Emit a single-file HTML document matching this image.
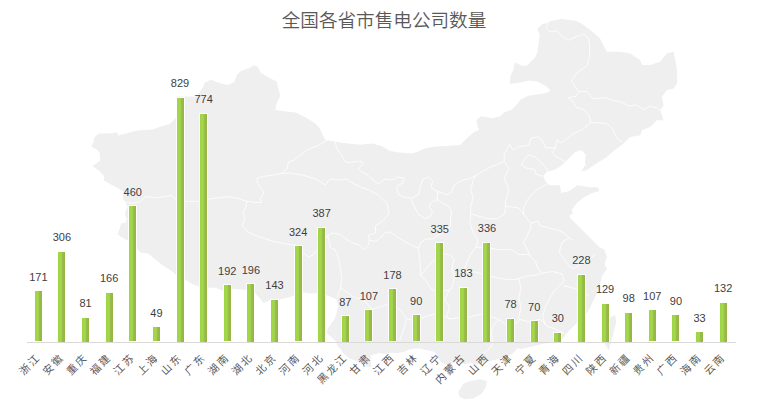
<!DOCTYPE html>
<html><head><meta charset="utf-8"><title>全国各省市售电公司数量</title>
<style>
html,body{margin:0;padding:0;background:#fff;}
body{width:768px;height:419px;overflow:hidden;position:relative;}
svg{position:absolute;left:0;top:0;display:block;}
.t{font-family:"Liberation Sans","Noto Sans CJK SC",sans-serif;font-size:18.6px;font-weight:350;fill:#595959;}
.v text{font-family:"Liberation Sans","Noto Sans CJK SC",sans-serif;font-size:11px;fill:#404040;text-anchor:middle;}
.c text{font-family:"Liberation Sans","Noto Sans CJK SC",sans-serif;font-size:10.5px;letter-spacing:2.0px;fill:#595959;text-anchor:end;}
</style></head>
<body>
<svg width="768" height="419" viewBox="0 0 768 419">
<defs>
<linearGradient id="g" x1="0" y1="0" x2="1" y2="0">
<stop offset="0" stop-color="#9fd446"/>
<stop offset="0.45" stop-color="#a3d84c"/>
<stop offset="0.62" stop-color="#9bbd4c"/>
<stop offset="1" stop-color="#94b544"/>
</linearGradient>
</defs>
<g fill="#efefef" stroke="none">
<polygon points="92.4,166.0 100.0,161.1 100.0,153.5 97.2,149.7 91.5,146.8 93.4,142.0 94.3,137.3 99.1,133.4 108.7,133.4 117.3,132.5 118.2,135.4 125.9,133.4 137.3,130.6 152.6,129.6 160.3,126.8 169.8,123.9 175.5,118.2 177.5,115.0 177.5,96.5 196.0,96.5 199.5,92.5 203.0,87.5 204.4,83.0 210.8,79.7 219.4,83.0 228.0,85.1 234.4,81.9 236.6,75.4 240.9,71.1 249.5,67.9 253.8,65.3 258.1,66.9 260.2,72.2 267.2,76.7 276.7,81.5 279.1,91.0 280.3,95.8 276.7,102.9 275.5,110.1 283.8,111.3 295.8,112.5 305.3,117.2 314.9,123.2 319.6,128.0 323.2,136.3 325.6,139.9 331.5,141.1 338.7,142.3 348.2,143.5 360.2,144.7 372.1,143.5 381.6,145.9 389.5,150.7 399.1,152.6 412.5,153.5 418.2,151.6 423.9,148.8 433.5,146.8 446.8,145.9 460.2,144.9 464.0,141.1 467.9,137.3 473.6,132.5 479.3,129.7 477.4,125.8 476.4,120.1 481.2,116.3 492.7,118.2 500.3,116.3 504.1,112.5 511.8,109.6 517.0,104.3 520.6,99.5 527.7,95.9 534.9,94.7 544.4,93.5 550.4,91.1 546.8,86.4 537.3,81.6 530.1,80.4 518.2,82.8 509.8,84.0 509.8,81.6 511.0,74.4 513.4,69.7 514.6,62.5 523.0,66.1 527.7,64.9 534.9,57.7 537.3,53.0 538.5,43.4 539.7,33.9 537.3,29.1 542.0,24.3 546.8,23.1 551.6,20.7 561.1,19.1 575.5,20.7 582.6,24.3 592.2,31.5 600.0,38.6 606.8,51.7 620.1,51.7 630.2,53.4 640.2,60.1 641.9,65.1 650.2,65.1 660.2,61.8 666.9,53.4 673.6,51.7 675.3,60.1 677.0,70.1 677.0,83.5 673.6,88.5 666.9,90.2 661.9,96.8 663.6,105.2 660.2,110.2 663.6,120.2 656.9,120.2 650.2,126.9 641.9,130.3 640.2,135.3 630.2,137.0 623.5,143.6 620.0,146.2 613.5,151.0 605.9,157.7 596.3,163.4 586.8,170.0 583.0,171.0 581.0,172.0 584.9,165.3 586.8,167.2 584.9,162.4 585.8,154.8 581.0,150.0 575.3,152.0 569.6,157.7 565.8,161.5 562.0,165.3 554.4,170.0 546.7,172.0 543.9,175.8 544.8,180.6 548.6,184.4 550.5,185.3 560.0,185.3 561.0,193.0 569.6,191.0 577.3,185.3 588.7,187.3 598.2,187.3 599.2,191.0 592.5,193.0 584.9,196.8 577.3,202.5 571.5,210.0 573.1,213.0 569.2,215.7 570.5,218.3 578.4,226.2 586.3,234.0 594.1,242.0 599.4,247.2 604.6,249.8 606.9,257.2 604.5,264.3 606.9,269.1 602.0,276.2 599.7,285.8 596.1,295.3 592.6,302.5 587.8,312.0 580.6,319.2 573.5,326.3 566.3,333.5 561.5,340.6 551.6,342.8 543.8,343.6 534.4,345.9 528.1,347.5 521.9,349.1 517.2,348.3 515.6,350.6 512.5,353.8 506.3,356.9 500.0,358.4 493.8,360.0 487.5,361.6 481.3,363.1 475.0,364.7 470.3,363.1 465.6,364.2 460.9,362.9 456.7,361.7 452.5,362.9 448.4,363.8 445.9,364.2 443.4,363.4 440.0,360.9 437.5,357.5 435.9,353.3 434.2,351.7 429.2,350.8 425.0,350.0 419.8,348.4 415.0,348.5 409.2,349.7 405.0,351.6 401.6,352.3 398.0,353.0 390.8,353.0 387.2,353.4 383.7,353.7 379.4,353.0 376.5,353.7 373.6,354.5 370.8,355.2 370.5,360.0 371.5,366.6 369.7,367.5 365.9,365.6 362.0,363.7 358.2,361.8 354.4,359.9 350.6,358.9 347.7,357.0 344.8,355.1 342.9,352.7 341.0,349.4 337.2,345.6 336.2,342.0 334.0,339.5 330.0,336.0 326.5,333.0 327.6,329.1 331.2,323.7 334.8,318.4 336.6,313.0 338.4,305.8 336.6,299.6 331.2,296.9 325.8,295.1 316.9,293.3 310.8,293.4 303.2,292.5 295.5,294.4 289.8,297.3 284.1,298.2 278.3,300.1 270.7,300.1 263.1,303.0 261.2,300.1 257.3,295.4 253.5,291.5 242.0,289.6 230.6,288.7 222.9,290.6 215.3,287.7 207.6,287.7 199.8,286.9 192.2,284.0 186.4,280.2 176.9,275.4 171.2,270.6 163.5,265.9 155.9,260.1 148.2,253.4 140.6,252.5 136.8,248.7 129.1,241.0 121.5,237.2 117.6,234.3 120.1,227.3 121.1,223.5 125.9,222.5 126.8,218.7 124.9,214.9 125.9,210.1 127.8,207.3 125.9,203.4 123.0,198.7 124.0,192.0 118.2,188.2 110.6,184.3 103.9,180.5 103.9,175.7 99.1,170.7"/>
<polygon points="458.4,391.8 463.4,383.4 470.0,380.9 480.0,379.2 486.8,380.9 486.0,386.7 481.8,393.4 473.4,398.4 465.0,399.3 459.2,396.8"/>
<polygon points="615.3,315.3 616.3,322.0 613.4,333.5 608.6,350.6 601.0,337.3 604.8,325.8 610.5,317.2"/>
</g>
<g fill="none" stroke="#fff" stroke-width="0.8" stroke-linejoin="round" stroke-linecap="round">
<polyline points="122.5,199.5 125.0,202.0 131.0,203.0 138.0,202.8 141.0,200.5 145.0,197.0 150.0,196.6 153.9,197.8 165.8,196.6 171.8,195.4 176.6,200.1 184.9,201.3 199.3,201.3 208.8,199.0 218.4,197.8 227.9,196.6 235.1,197.8 247.0,201.3 254.2,202.5 261.3,202.5"/>
<polyline points="326.6,140.7 318.2,145.5 308.7,149.1 301.5,153.9 294.3,159.9 288.4,162.2 287.2,168.2 282.8,172.7 273.3,175.1 263.7,176.3 256.6,178.7 257.8,183.4 261.3,188.2 263.7,193.0 260.1,199.0 261.3,202.5"/>
<polyline points="247.0,201.3 245.8,207.3 243.4,212.1 244.6,219.3 242.2,225.2 247.0,231.2 254.2,234.8 263.7,238.4 275.7,241.9 287.6,244.3 294.3,244.9 303.9,253.3 308.7,256.9 313.4,254.5 320.6,244.9 327.8,235.4"/>
<polyline points="282.0,173.5 289.6,173.0 303.9,175.4 315.8,179.0 325.4,184.9 330.1,179.0 339.7,180.1 346.9,179.0 354.0,183.7 361.2,187.3 370.7,190.9 377.9,194.5 382.7,199.3 387.5,204.3 388.7,213.9 382.7,221.0 375.5,225.8 375.5,233.0 368.4,235.4 369.6,240.1"/>
<polyline points="327.8,235.4 332.5,233.0 339.7,234.2 344.5,237.8 351.6,242.5 358.8,244.9 363.6,249.7 368.4,244.9 369.6,240.1"/>
<polyline points="327.8,235.4 330.1,247.3 334.8,249.6 337.3,254.5 339.7,263.9 341.9,278.2 340.7,287.8 337.2,297.3"/>
<polyline points="340.7,287.8 353.9,297.3 363.4,299.7 371.8,309.3 380.1,306.9 387.3,304.5 396.9,306.9 401.6,311.6 406.4,318.8 404.0,328.4 400.0,340.0"/>
<polyline points="406.4,318.8 416.0,321.1 425.5,316.4 435.1,314.0 444.6,316.4 449.4,318.8 458.9,318.0 466.5,317.7 474.1,315.8 481.7,313.9 490.0,316.0 498.9,319.6 504.6,323.4 512.3,325.4 518.0,321.6 520.0,319.6"/>
<polyline points="498.9,319.6 493.2,325.4 491.3,333.0 493.2,340.6 491.3,346.4 489.0,349.0 484.0,353.0"/>
<polyline points="369.6,240.1 375.5,241.3 380.3,237.8 385.1,233.0 389.9,231.8 397.0,236.6 404.2,241.3 411.3,244.9 418.5,248.5 420.9,242.5 425.7,239.0 432.8,239.0 437.6,235.4"/>
<polyline points="420.7,275.8 425.5,280.6 430.3,287.8 435.1,291.3 442.2,291.3 449.4,290.1 444.6,299.7 449.4,306.9 447.0,316.4 449.4,318.8"/>
<polyline points="418.5,248.5 420.0,262.0 420.7,275.8 427.9,266.3 435.1,259.1 442.2,254.3 449.4,254.3 454.2,259.1 451.8,268.7 454.2,278.2 451.8,287.8 449.4,290.1"/>
<polyline points="334.9,141.9 337.3,149.1 342.1,156.3 345.7,162.2 351.6,162.2 361.2,161.0 362.4,164.6 358.8,168.2 361.2,171.8 368.4,175.4 373.1,180.1 377.9,183.7 381.5,181.3 385.1,179.0 392.2,180.1 397.9,177.0 403.9,178.2 402.7,183.0 396.7,186.6 397.9,193.7 403.9,197.3 408.7,197.3 411.0,199.7 414.6,206.9 418.2,214.0 425.4,218.8 430.1,216.4"/>
<polyline points="411.0,198.5 418.2,194.9 420.6,185.4 423.0,179.4 427.8,177.0 432.5,180.6 431.3,187.8 437.3,191.3 437.3,199.7 431.3,202.1 429.0,206.9 432.5,211.6 430.1,216.4"/>
<polyline points="437.3,191.3 446.9,194.9 451.6,192.5 454.0,185.4 461.2,180.6 470.7,178.2 475.5,175.8"/>
<polyline points="437.3,199.7 449.3,206.9 451.6,211.6 450.4,218.8 450.4,226.0 445.0,232.0 437.6,235.4"/>
<polyline points="475.5,175.8 473.1,180.6 470.7,190.1 473.1,197.3 470.7,206.9 470.7,216.4 469.9,223.4 473.4,233.0 478.2,240.1 475.8,247.3 470.0,255.0 463.7,271.0 475.0,272.0 490.1,276.3 502.1,278.7 511.6,279.9 518.8,278.7 526.0,276.3 535.5,275.1 545.1,272.7 552.2,271.5 561.8,273.9"/>
<polyline points="475.5,175.8 482.7,171.0 492.2,166.3 504.2,161.5 504.2,154.3 509.6,144.2 513.1,150.1 519.1,146.6 528.7,145.4 531.0,138.2 538.2,137.0 543.0,141.8 545.4,147.8 556.1,147.8"/>
<polyline points="504.2,161.5 509.0,168.7 504.2,178.2 509.0,190.1 505.4,202.1 505.7,206.7"/>
<polyline points="471.0,214.0 487.8,218.7 497.3,218.7 504.5,213.9 505.7,206.7 509.3,206.7 518.8,207.9 523.6,213.9"/>
<polyline points="547.8,183.6 535.8,190.7 528.7,197.9 523.3,208.1 523.6,213.9 530.7,223.4 537.9,221.0 540.3,225.8 549.9,228.2 559.4,230.6 564.2,233.0 569.0,237.8 572.0,240.0"/>
<polyline points="530.7,224.0 530.7,228.2 526.0,237.8 523.6,242.5 528.4,252.1 530.7,256.9 535.5,261.6 537.9,268.8 542.7,273.6"/>
<polyline points="569.0,237.8 561.8,242.5 559.4,252.1 564.2,259.3 569.0,266.4 573.7,268.8 585.0,262.0 595.0,255.0"/>
<polyline points="475.8,247.3 487.8,247.3 497.3,249.7 511.6,249.7 518.8,254.5 528.4,254.5"/>
<polyline points="518.8,278.7 521.2,288.2 518.8,297.8 521.2,307.3 518.8,316.9 518.8,319.3 528.4,321.6 540.3,319.3 547.5,326.4 554.6,328.8 564.2,333.6"/>
<polyline points="561.8,273.9 564.2,281.0 557.0,288.2 554.6,290.6 549.9,297.8 545.1,307.3 542.7,316.9 545.1,324.0 547.5,326.4"/>
<polyline points="564.2,285.8 573.7,288.2 580.9,290.6 588.1,295.4"/>
<polyline points="547.8,22.4 546.6,28.4 550.1,31.9 557.3,30.7 560.9,35.5 568.1,40.3 576.4,36.7 583.6,34.3 588.4,37.9 589.6,46.3 589.6,55.8 587.2,65.4 582.4,69.0 576.4,73.7 571.6,80.9 575.2,86.9 578.8,91.6 576.4,96.4 568.1,97.6 572.8,101.2 576.4,107.2 583.6,109.6 589.6,116.7 590.7,122.7"/>
<polyline points="578.8,91.6 587.2,91.6 593.1,98.8 605.1,97.6 612.2,100.0 621.8,102.4 629.0,106.0 636.1,104.8 643.3,109.6 650.4,106.0 657.6,108.4 663.0,112.0"/>
<polyline points="590.7,122.7 597.9,122.7 607.5,123.9 612.2,128.7 617.0,138.2 621.8,141.8"/>
<polyline points="590.7,122.7 583.6,128.7 574.0,133.4 564.5,140.6 559.7,143.0 557.3,139.4 556.1,145.4 552.5,152.5 554.9,156.1 562.1,159.7 565.0,162.0"/>
<polyline points="528.7,155.0 535.8,157.3 540.6,162.1 545.4,166.9 547.8,171.6 543.0,176.4 535.8,174.0 534.6,169.3 526.3,168.1 521.5,164.5 523.9,159.7 528.7,155.0"/>
</g>
<text class="t" x="384" y="27" text-anchor="middle">全国各省市售电公司数量</text>
<line x1="27" y1="342.5" x2="736" y2="342.5" stroke="#d9d9d9" stroke-width="1"/>
<g>
<rect x="34" y="290" width="9" height="51" fill="#fff" fill-opacity="0.85"/><rect x="35" y="291" width="7" height="50" fill="url(#g)"/>
<rect x="57" y="251" width="9" height="91" fill="#fff" fill-opacity="0.85"/><rect x="58" y="252" width="7" height="90" fill="url(#g)"/>
<rect x="81" y="317" width="9" height="25" fill="#fff" fill-opacity="0.85"/><rect x="82" y="318" width="7" height="24" fill="url(#g)"/>
<rect x="105" y="292" width="9" height="50" fill="#fff" fill-opacity="0.85"/><rect x="106" y="293" width="7" height="49" fill="url(#g)"/>
<rect x="128" y="205" width="9" height="136" fill="#fff" fill-opacity="0.85"/><rect x="129" y="206" width="7" height="135" fill="url(#g)"/>
<rect x="152" y="326" width="9" height="15" fill="#fff" fill-opacity="0.85"/><rect x="153" y="327" width="7" height="14" fill="url(#g)"/>
<rect x="176" y="97" width="9" height="245" fill="#fff" fill-opacity="0.85"/><rect x="177" y="98" width="7" height="244" fill="url(#g)"/>
<rect x="199" y="113" width="9" height="229" fill="#fff" fill-opacity="0.85"/><rect x="200" y="114" width="7" height="228" fill="url(#g)"/>
<rect x="223" y="284" width="9" height="57" fill="#fff" fill-opacity="0.85"/><rect x="224" y="285" width="7" height="56" fill="url(#g)"/>
<rect x="246" y="283" width="9" height="59" fill="#fff" fill-opacity="0.85"/><rect x="247" y="284" width="7" height="58" fill="url(#g)"/>
<rect x="270" y="299" width="9" height="43" fill="#fff" fill-opacity="0.85"/><rect x="271" y="300" width="7" height="42" fill="url(#g)"/>
<rect x="294" y="245" width="9" height="96" fill="#fff" fill-opacity="0.85"/><rect x="295" y="246" width="7" height="95" fill="url(#g)"/>
<rect x="317" y="227" width="9" height="115" fill="#fff" fill-opacity="0.85"/><rect x="318" y="228" width="7" height="114" fill="url(#g)"/>
<rect x="341" y="315" width="9" height="27" fill="#fff" fill-opacity="0.85"/><rect x="342" y="316" width="7" height="26" fill="url(#g)"/>
<rect x="364" y="309" width="9" height="32" fill="#fff" fill-opacity="0.85"/><rect x="365" y="310" width="7" height="31" fill="url(#g)"/>
<rect x="388" y="288" width="9" height="53" fill="#fff" fill-opacity="0.85"/><rect x="389" y="289" width="7" height="52" fill="url(#g)"/>
<rect x="412" y="314" width="9" height="27" fill="#fff" fill-opacity="0.85"/><rect x="413" y="315" width="7" height="26" fill="url(#g)"/>
<rect x="435" y="242" width="9" height="99" fill="#fff" fill-opacity="0.85"/><rect x="436" y="243" width="7" height="98" fill="url(#g)"/>
<rect x="459" y="287" width="9" height="55" fill="#fff" fill-opacity="0.85"/><rect x="460" y="288" width="7" height="54" fill="url(#g)"/>
<rect x="482" y="242" width="9" height="100" fill="#fff" fill-opacity="0.85"/><rect x="483" y="243" width="7" height="99" fill="url(#g)"/>
<rect x="506" y="318" width="9" height="24" fill="#fff" fill-opacity="0.85"/><rect x="507" y="319" width="7" height="23" fill="url(#g)"/>
<rect x="530" y="320" width="9" height="22" fill="#fff" fill-opacity="0.85"/><rect x="531" y="321" width="7" height="21" fill="url(#g)"/>
<rect x="553" y="332" width="9" height="10" fill="#fff" fill-opacity="0.85"/><rect x="554" y="333" width="7" height="9" fill="url(#g)"/>
<rect x="577" y="274" width="9" height="68" fill="#fff" fill-opacity="0.85"/><rect x="578" y="275" width="7" height="67" fill="url(#g)"/>
<rect x="601" y="303" width="9" height="39" fill="#fff" fill-opacity="0.85"/><rect x="602" y="304" width="7" height="38" fill="url(#g)"/>
<rect x="624" y="312" width="9" height="30" fill="#fff" fill-opacity="0.85"/><rect x="625" y="313" width="7" height="29" fill="url(#g)"/>
<rect x="648" y="309" width="9" height="32" fill="#fff" fill-opacity="0.85"/><rect x="649" y="310" width="7" height="31" fill="url(#g)"/>
<rect x="671" y="314" width="9" height="27" fill="#fff" fill-opacity="0.85"/><rect x="672" y="315" width="7" height="26" fill="url(#g)"/>
<rect x="695" y="331" width="9" height="11" fill="#fff" fill-opacity="0.85"/><rect x="696" y="332" width="7" height="10" fill="url(#g)"/>
<rect x="719" y="302" width="9" height="40" fill="#fff" fill-opacity="0.85"/><rect x="720" y="303" width="7" height="39" fill="url(#g)"/>
</g>
<g class="v">
<text x="38.33" y="280.92">171</text>
<text x="61.94" y="241.22">306</text>
<text x="85.56" y="307.38">81</text>
<text x="109.17" y="282.39">166</text>
<text x="132.78" y="195.94">460</text>
<text x="156.40" y="316.79">49</text>
<text x="180.01" y="86.63">829</text>
<text x="203.63" y="102.81">774</text>
<text x="227.24" y="274.74">192</text>
<text x="250.85" y="273.57">196</text>
<text x="274.47" y="289.15">143</text>
<text x="298.08" y="235.93">324</text>
<text x="321.69" y="217.40">387</text>
<text x="345.31" y="305.62">87</text>
<text x="368.92" y="299.74">107</text>
<text x="392.53" y="278.86">178</text>
<text x="416.15" y="304.74">90</text>
<text x="439.76" y="232.69">335</text>
<text x="463.37" y="277.39">183</text>
<text x="486.99" y="232.40">336</text>
<text x="510.60" y="308.26">78</text>
<text x="534.22" y="310.62">70</text>
<text x="557.83" y="322.38">30</text>
<text x="581.44" y="264.16">228</text>
<text x="605.06" y="293.27">129</text>
<text x="628.67" y="302.38">98</text>
<text x="652.28" y="299.74">107</text>
<text x="675.90" y="304.74">90</text>
<text x="699.51" y="321.50">33</text>
<text x="723.12" y="292.39">132</text>
</g>
<g class="c">
<text transform="translate(41.33,358.00) rotate(-45)" x="0" y="0">浙江</text>
<text transform="translate(64.94,358.00) rotate(-45)" x="0" y="0">安徽</text>
<text transform="translate(88.56,358.00) rotate(-45)" x="0" y="0">重庆</text>
<text transform="translate(112.17,358.00) rotate(-45)" x="0" y="0">福建</text>
<text transform="translate(135.78,358.00) rotate(-45)" x="0" y="0">江苏</text>
<text transform="translate(159.40,358.00) rotate(-45)" x="0" y="0">上海</text>
<text transform="translate(183.01,358.00) rotate(-45)" x="0" y="0">山东</text>
<text transform="translate(206.63,358.00) rotate(-45)" x="0" y="0">广东</text>
<text transform="translate(230.24,358.00) rotate(-45)" x="0" y="0">湖南</text>
<text transform="translate(253.85,358.00) rotate(-45)" x="0" y="0">湖北</text>
<text transform="translate(277.47,358.00) rotate(-45)" x="0" y="0">北京</text>
<text transform="translate(301.08,358.00) rotate(-45)" x="0" y="0">河南</text>
<text transform="translate(324.69,358.00) rotate(-45)" x="0" y="0">河北</text>
<text transform="translate(348.31,358.00) rotate(-45)" x="0" y="0">黑龙江</text>
<text transform="translate(371.92,358.00) rotate(-45)" x="0" y="0">甘肃</text>
<text transform="translate(395.53,358.00) rotate(-45)" x="0" y="0">江西</text>
<text transform="translate(419.15,358.00) rotate(-45)" x="0" y="0">吉林</text>
<text transform="translate(442.76,358.00) rotate(-45)" x="0" y="0">辽宁</text>
<text transform="translate(466.37,358.00) rotate(-45)" x="0" y="0">内蒙古</text>
<text transform="translate(489.99,358.00) rotate(-45)" x="0" y="0">山西</text>
<text transform="translate(513.60,358.00) rotate(-45)" x="0" y="0">天津</text>
<text transform="translate(537.22,358.00) rotate(-45)" x="0" y="0">宁夏</text>
<text transform="translate(560.83,358.00) rotate(-45)" x="0" y="0">青海</text>
<text transform="translate(584.44,358.00) rotate(-45)" x="0" y="0">四川</text>
<text transform="translate(608.06,358.00) rotate(-45)" x="0" y="0">陕西</text>
<text transform="translate(631.67,358.00) rotate(-45)" x="0" y="0">新疆</text>
<text transform="translate(655.28,358.00) rotate(-45)" x="0" y="0">贵州</text>
<text transform="translate(678.90,358.00) rotate(-45)" x="0" y="0">广西</text>
<text transform="translate(702.51,358.00) rotate(-45)" x="0" y="0">海南</text>
<text transform="translate(726.12,358.00) rotate(-45)" x="0" y="0">云南</text>
</g>
</svg>
</body></html>
